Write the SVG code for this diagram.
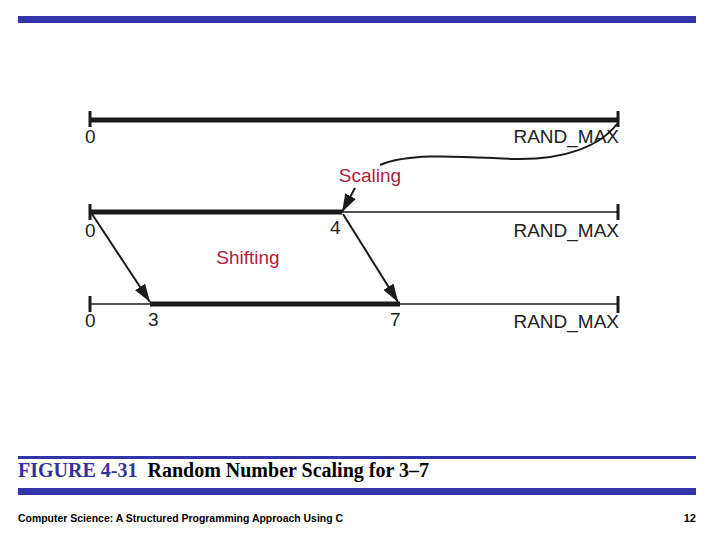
<svg xmlns="http://www.w3.org/2000/svg" width="720" height="540" viewBox="0 0 720 540">
<defs>
<style>
.lbl{font-family:"Liberation Sans",Arial,sans-serif;font-size:19px;fill:#222}
.red{font-family:"Liberation Sans",Arial,sans-serif;font-size:19px;fill:#b3213a}
.thick{stroke:#1a1a1a;stroke-width:5;fill:none}
.thin{stroke:#1a1a1a;stroke-width:1.5;fill:none}
.tick{stroke:#1a1a1a;stroke-width:3;fill:none}
.arr{stroke:#1a1a1a;stroke-width:2;fill:none}
.bar{fill:#3333aa}
</style>
<marker id="ah" markerUnits="userSpaceOnUse" markerWidth="20" markerHeight="12" refX="18" refY="6" orient="auto">
<path d="M0,0 L18,6 L0,12 z" fill="#1a1a1a"/>
</marker>
</defs>
<rect class="bar" x="18" y="16" width="678" height="7"/>
<g id="line1">
<line class="thick" x1="90" y1="120" x2="618" y2="120"/>
<line class="tick" x1="90" y1="111" x2="90" y2="127"/>
<line class="tick" x1="618" y1="111" x2="618" y2="127"/>
<text class="lbl" x="85" y="143">0</text>
<text class="lbl" x="619" y="143" text-anchor="end">RAND_MAX</text>
</g>
<g id="line2">
<line class="thick" x1="90" y1="212" x2="342" y2="212"/>
<line class="thin" x1="342" y1="212" x2="618" y2="212"/>
<line class="tick" x1="90" y1="204" x2="90" y2="220"/>
<line class="tick" x1="618" y1="204" x2="618" y2="220"/>
<text class="lbl" x="85" y="237">0</text>
<text class="lbl" x="330" y="234">4</text>
<text class="lbl" x="619" y="237" text-anchor="end">RAND_MAX</text>
</g>
<g id="line3">
<line class="thin" x1="90" y1="304" x2="618" y2="304"/>
<line class="thick" x1="150" y1="304" x2="400" y2="304"/>
<line class="tick" x1="90" y1="296" x2="90" y2="312"/>
<line class="tick" x1="618" y1="296" x2="618" y2="313"/>
<text class="lbl" x="85" y="327">0</text>
<text class="lbl" x="148" y="326">3</text>
<text class="lbl" x="390" y="326">7</text>
<text class="lbl" x="619" y="328" text-anchor="end">RAND_MAX</text>
</g>
<g id="labels">
<text class="red" x="370" y="182" text-anchor="middle">Scaling</text>
<text class="red" x="248" y="264" text-anchor="middle">Shifting</text>
</g>
<g id="connectors">
<path class="arr" d="M617,124 C600,146 565,160 515,159 C465,157 410,152 380,165"/>
<line class="arr" x1="355" y1="188" x2="342" y2="212" marker-end="url(#ah)"/>
<line class="arr" x1="92" y1="214" x2="150" y2="302" marker-end="url(#ah)"/>
<line class="arr" x1="343" y1="214" x2="398" y2="302" marker-end="url(#ah)"/>
</g>
<g id="caption">
<rect class="bar" x="18" y="456" width="678" height="3"/>
<text x="18" y="477" style="font-family:'Liberation Serif','Times New Roman',serif;font-size:20px;font-weight:bold"><tspan fill="#333399">FIGURE 4-31</tspan><tspan fill="#000" dx="10">Random Number Scaling for 3–7</tspan></text>
<rect class="bar" x="18" y="488" width="678" height="7"/>
<text x="18" y="522" textLength="325" lengthAdjust="spacingAndGlyphs" style="font-family:'Liberation Sans',Arial,sans-serif;font-size:11px;font-weight:bold;fill:#000">Computer Science: A Structured Programming Approach Using C</text>
<text x="696" y="522" text-anchor="end" style="font-family:'Liberation Sans',Arial,sans-serif;font-size:11px;font-weight:bold;fill:#000">12</text>
</g>
</svg>
